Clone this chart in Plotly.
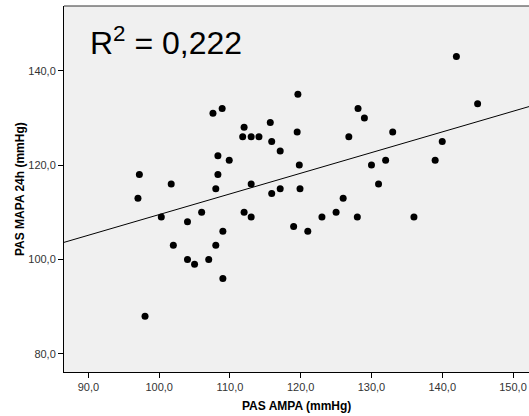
import numpy as np
import plotly.graph_objects as go

# PAS AMPA (mmHg)
pas_ampa = [119.6, 107.6, 108.9, 115.7, 112, 111.8, 113, 114.1, 119.5, 115.9,
            117.1, 108.3, 109.9, 119.8, 97.2, 108.3, 101.7, 113, 108, 115.9,
            117.1, 119.9, 97, 142, 128.1, 129, 145, 126.8, 133, 140,
            130, 132, 139, 131, 126, 100.3, 104, 106, 112, 113,
            119, 109, 102, 108, 104, 105, 107, 109, 98, 121,
            123, 125, 128, 136]
# PAS MAPA 24h (mmHg)
pas_mapa = [135, 131, 132, 129, 128, 126, 126, 126, 127, 125,
            123, 122, 121, 120, 118, 118, 116, 116, 115, 114,
            115, 115, 113, 143, 132, 130, 133, 126, 127, 125,
            120, 121, 121, 116, 113, 109, 108, 110, 110, 109,
            107, 106, 103, 103, 100, 99, 100, 96, 88, 106,
            109, 110, 109, 109]

x_ticks = [90, 100, 110, 120, 130, 140, 150]
x_ticklabels = ["90,0", "100,0", "110,0", "120,0", "130,0", "140,0", "150,0"]
y_ticks = [80, 100, 120, 140]
y_ticklabels = ["80,0", "100,0", "120,0", "140,0"]
x_range = [86.55, 152.26]
y_range = [76.17, 153.7]
r2_label = "R<sup>2</sup> = 0,222"

slope, intercept = np.polyfit(pas_ampa, pas_mapa, 1)
lx = np.array(x_range)
ly = slope * lx + intercept

fig = go.Figure()
fig.add_trace(go.Scatter(x=lx, y=ly, mode="lines",
                         line=dict(color="black", width=1), hoverinfo="skip"))
fig.add_trace(go.Scatter(x=pas_ampa, y=pas_mapa, mode="markers",
                         marker=dict(color="black", size=7, line=dict(width=0))))

tickfont = dict(family="Liberation Sans, Arial, sans-serif", size=11, color="#333333")
fig.update_layout(
    width=529, height=416,
    margin=dict(l=64, r=0, t=6, b=44),
    paper_bgcolor="white", plot_bgcolor="#f0f0f0",
    showlegend=False,
    xaxis=dict(range=x_range, tickvals=x_ticks, ticktext=x_ticklabels,
               showgrid=False, zeroline=False, showline=True, linecolor="black",
               linewidth=1, mirror=False, ticks="outside", ticklen=5,
               tickcolor="black", tickfont=tickfont),
    yaxis=dict(range=y_range, tickvals=y_ticks, ticktext=y_ticklabels,
               showgrid=False, zeroline=False, showline=True, linecolor="black",
               linewidth=1, ticks="outside", ticklen=5, tickcolor="black",
               tickfont=tickfont),
    shapes=[dict(type="line", xref="paper", yref="paper", x0=0, x1=1, y0=1, y1=1,
                 line=dict(color="#333333", width=1))],
    annotations=[
        dict(text=r2_label, xref="paper", yref="paper", x=0.052, y=0.905,
             xanchor="left", yanchor="middle", showarrow=False,
             font=dict(family="Liberation Sans, Arial, sans-serif", size=32, color="black")),
        dict(text="<b>PAS AMPA (mmHg)</b>", xref="paper", yref="paper", x=0.5, y=-0.092,
             xanchor="center", yanchor="middle", showarrow=False,
             font=dict(family="Liberation Sans, Arial, sans-serif", size=12, color="black")),
        dict(text="<b>PAS MAPA 24h (mmHg)</b>", xref="paper", yref="paper", x=-0.0946, y=0.5,
             xanchor="center", yanchor="middle", showarrow=False, textangle=-90,
             font=dict(family="Liberation Sans, Arial, sans-serif", size=12, color="black")),
    ],
)
fig.write_html("out.html", config={"displayModeBar": False},
               post_script="document.body.style.margin='0';document.body.style.overflow='hidden';")
